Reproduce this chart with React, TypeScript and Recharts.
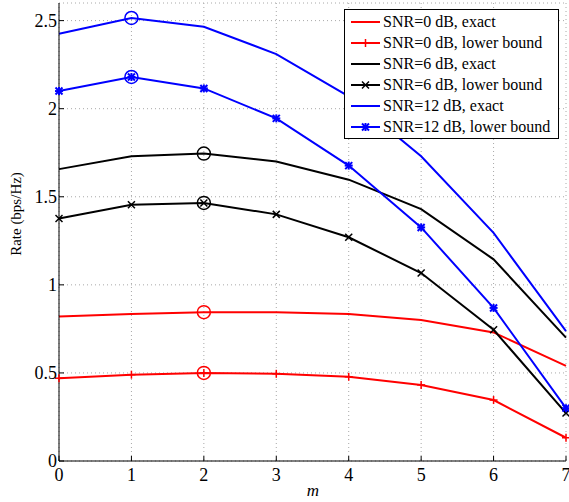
import { LineChart, Line, XAxis, YAxis, CartesianGrid, Legend, Label } from 'recharts';

const FONT = '"Liberation Serif", "Times New Roman", serif';
const TICK_LEN = 5;

const mValues = [0, 1, 2, 3, 4, 5, 6, 7];
const xTicks = [0, 1, 2, 3, 4, 5, 6, 7];
const yTicks = [0, 0.5, 1, 1.5, 2, 2.5];

const snr0Exact = [0.82, 0.835, 0.845, 0.845, 0.835, 0.8, 0.73, 0.54];
const snr0Lower = [0.47, 0.49, 0.5, 0.495, 0.478, 0.432, 0.346, 0.132];
const snr6Exact = [1.657, 1.73, 1.745, 1.7, 1.597, 1.43, 1.145, 0.7];
const snr6Lower = [1.377, 1.455, 1.465, 1.4, 1.27, 1.067, 0.745, 0.272];
const snr12Exact = [2.425, 2.515, 2.465, 2.31, 2.07, 1.73, 1.295, 0.737];
const snr12Lower = [2.1, 2.18, 2.115, 1.945, 1.677, 1.326, 0.869, 0.3];

// index of the maximum on each curve (open circle)
const peakIndex = [2, 2, 2, 2, 1, 1];

const seriesNames = [
  'SNR=0 dB, exact',
  'SNR=0 dB, lower bound',
  'SNR=6 dB, exact',
  'SNR=6 dB, lower bound',
  'SNR=12 dB, exact',
  'SNR=12 dB, lower bound',
];

const series = [
  { key: 's0e', values: snr0Exact, color: '#ff0000', marker: 'none' },
  { key: 's0l', values: snr0Lower, color: '#ff0000', marker: 'plus' },
  { key: 's6e', values: snr6Exact, color: '#000000', marker: 'none' },
  { key: 's6l', values: snr6Lower, color: '#000000', marker: 'cross' },
  { key: 's12e', values: snr12Exact, color: '#0000ff', marker: 'none' },
  { key: 's12l', values: snr12Lower, color: '#0000ff', marker: 'star' },
].map((s, i) => ({ ...s, name: seriesNames[i], peak: peakIndex[i] }));

const data = mValues.map((m, i) => {
  const row: Record<string, number> = { m };
  series.forEach((s) => {
    row[s.key] = s.values[i];
  });
  return row;
});

const textStyle = { fontFamily: FONT, fill: '#000' };

const Marker = ({ cx, cy, type, color }: { cx: number; cy: number; type: string; color: string }) => {
  const p = 4;
  const c = 3.5;
  if (type === 'plus') {
    return (
      <g stroke={color} strokeWidth={1.5}>
        <line x1={cx - p} y1={cy} x2={cx + p} y2={cy} />
        <line x1={cx} y1={cy - p} x2={cx} y2={cy + p} />
      </g>
    );
  }
  if (type === 'cross') {
    return (
      <g stroke={color} strokeWidth={1.5}>
        <line x1={cx - c} y1={cy - c} x2={cx + c} y2={cy + c} />
        <line x1={cx - c} y1={cy + c} x2={cx + c} y2={cy - c} />
      </g>
    );
  }
  if (type === 'star') {
    return (
      <g stroke={color} strokeWidth={2}>
        <line x1={cx - p} y1={cy} x2={cx + p} y2={cy} />
        <line x1={cx} y1={cy - p} x2={cx} y2={cy + p} />
        <line x1={cx - c} y1={cy - c} x2={cx + c} y2={cy + c} />
        <line x1={cx - c} y1={cy + c} x2={cx + c} y2={cy - c} />
      </g>
    );
  }
  return null;
};

const makeDot = (s: (typeof series)[number]) => (props: any) => {
  const { cx, cy, index } = props;
  return (
    <g key={`${s.key}-${index}`}>
      <Marker cx={cx} cy={cy} type={s.marker} color={s.color} />
      {index === s.peak && <circle cx={cx} cy={cy} r={6.5} fill="none" stroke={s.color} strokeWidth={1.5} />}
    </g>
  );
};

const BottomTick = ({ x, y, payload }: any) => (
  <g>
    <line x1={x} y1={y} x2={x} y2={y - TICK_LEN} stroke="#000" />
    <text x={x} y={y + 20} textAnchor="middle" style={{ ...textStyle, fontSize: 18 }}>
      {payload.value}
    </text>
  </g>
);

const LeftTick = ({ x, y, payload }: any) => (
  <g>
    <line x1={x} y1={y} x2={x + TICK_LEN} y2={y} stroke="#000" />
    <text x={x - 2} y={y + 6} textAnchor="end" style={{ ...textStyle, fontSize: 18 }}>
      {payload.value}
    </text>
  </g>
);

const TopTick = ({ x, y }: any) => <line x1={x} y1={y} x2={x} y2={y + TICK_LEN} stroke="#000" />;
const RightTick = ({ x, y }: any) => <line x1={x} y1={y} x2={x - TICK_LEN} y2={y} stroke="#000" />;

const renderYLabel = () => (
  <text
    x={16}
    y={214}
    transform="rotate(-90 16 214)"
    textAnchor="middle"
    dominantBaseline="central"
    style={{ ...textStyle, fontSize: 15 }}
  >
    Rate (bps/Hz)
  </text>
);

const renderXLabel = () => (
  <text x={313} y={496} textAnchor="middle" style={{ ...textStyle, fontSize: 17, fontStyle: 'italic' }}>
    m
  </text>
);

const LegendBox = () => (
  <div
    style={{
      border: '1px solid #000',
      background: '#fff',
      width: 213,
      height: 126,
      paddingTop: 2,
      boxSizing: 'content-box',
      fontFamily: FONT,
      fontSize: 16,
      color: '#000',
    }}
  >
    {series.map((s) => (
      <div key={s.key} style={{ display: 'flex', alignItems: 'center', height: 20.9, whiteSpace: 'nowrap' }}>
        <svg width={38} height={14} style={{ flex: 'none' }}>
          <line x1={6} y1={7} x2={35} y2={7} stroke={s.color} strokeWidth={2} />
          <Marker cx={20.5} cy={7} type={s.marker} color={s.color} />
        </svg>
        <span>{s.name}</span>
      </div>
    ))}
  </div>
);

export default function App() {
  return (
    <>
      <style>{'body{margin:0;background:#fff}'}</style>
      <LineChart width={569} height={502} data={data} margin={{ top: 3, right: 3, bottom: 0, left: 0 }}>
        <CartesianGrid strokeDasharray="1 3" stroke="#a8a8a8" />
        <XAxis
          dataKey="m"
          type="number"
          domain={[0, 7]}
          ticks={xTicks}
          interval={0}
          height={41}
          tickSize={0}
          tickMargin={0}
          tickLine={false}
          stroke="#000"
          tick={<BottomTick />}
        >
          <Label content={renderXLabel} />
        </XAxis>
        <XAxis
          xAxisId="top"
          orientation="top"
          dataKey="m"
          type="number"
          domain={[0, 7]}
          ticks={xTicks}
          interval={0}
          height={0}
          tickSize={0}
          tickMargin={0}
          tickLine={false}
          stroke="#000"
          tick={<TopTick />}
        />
        <YAxis
          type="number"
          domain={[0, 2.6]}
          ticks={yTicks}
          interval={0}
          width={59}
          tickSize={0}
          tickMargin={0}
          tickLine={false}
          stroke="#000"
          tick={<LeftTick />}
        >
          <Label content={renderYLabel} />
        </YAxis>
        <YAxis
          yAxisId="right"
          orientation="right"
          type="number"
          domain={[0, 2.6]}
          ticks={yTicks}
          interval={0}
          width={0}
          tickSize={0}
          tickMargin={0}
          tickLine={false}
          stroke="#000"
          tick={<RightTick />}
        />
        {series.map((s) => (
          <Line
            key={s.key}
            dataKey={s.key}
            name={s.name}
            type="linear"
            stroke={s.color}
            strokeWidth={2}
            dot={makeDot(s)}
            activeDot={false}
            isAnimationActive={false}
          />
        ))}
        <Legend
          layout="horizontal"
          align="center"
          verticalAlign="middle"
          content={<LegendBox />}
          wrapperStyle={{ position: 'absolute', top: 9, left: 344, width: 215, height: 128 }}
        />
      </LineChart>
    </>
  );
}
